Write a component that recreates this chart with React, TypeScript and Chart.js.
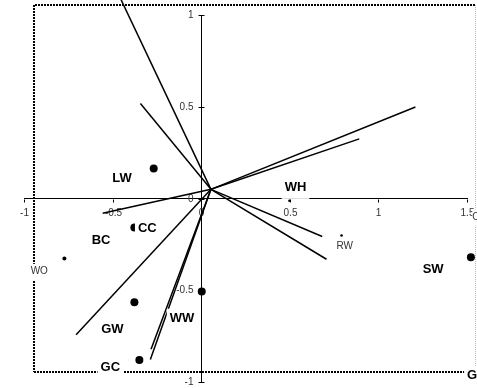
import React, { useEffect, useRef } from "react";
import { Chart, registerables } from "chart.js";

Chart.register(...registerables);

// ---- data ----
const originX = 0.055;
const originY = 0.05;
const vectorEndX = [-0.48, -0.343, 1.209, 0.892, -0.556, 0.683, 0.707, -0.706, -0.283, -0.287];
const vectorEndY = [1.14, 0.518, 0.499, 0.325, -0.08, -0.207, -0.331, -0.743, -0.821, -0.877];

const pointNames = ["LW", "CC", "WO", "GW", "GC", "WW", "RW", "SW", "WH"];
const pointX = [-0.268, -0.377, -0.772, -0.377, -0.349, 0.003, 0.792, 1.522, 0.498];
const pointY = [0.163, -0.158, -0.327, -0.565, -0.88, -0.507, -0.202, -0.32, -0.012];

const labelNames = ["LW", "CC", "BC", "WO", "GW", "GC", "WW", "WH", "RW", "SW", "C", "G"];
const labelX = [-0.447, -0.304, -0.565, -0.914, -0.501, -0.513, -0.108, 0.532, 0.81, 1.309, 1.55, 1.529];
const labelY = [0.118, -0.158, -0.222, -0.392, -0.707, -0.912, -0.648, 0.067, -0.256, -0.38, -0.096, -0.958];

const xTicks = [-1, -0.5, 0, 0.5, 1, 1.5];
const yTicks = [-1, -0.5, 0, 0.5, 1];

// ---- styles ----
const FONT = "'Liberation Sans', Arial, sans-serif";
const smallPoints = new Set(["WO"]);
const tinyPoints = new Set(["RW", "WH"]);
const plainLabels = new Set(["WO", "RW", "C"]);

const frameBox = { left: -0.942, top: 1.053, right: 1.545, bottom: -0.947 };

const framePlugin = {
  id: "frame",
  beforeDatasetsDraw(chart: any) {
    const { ctx } = chart;
    const xs = chart.scales.x;
    const ys = chart.scales.y;
    const l = Math.round(xs.getPixelForValue(frameBox.left));
    const r = Math.round(xs.getPixelForValue(frameBox.right));
    const t = Math.round(ys.getPixelForValue(frameBox.top));
    const b = Math.round(ys.getPixelForValue(frameBox.bottom));
    ctx.save();
    ctx.lineWidth = 2;
    ctx.strokeStyle = "#000";
    ctx.setLineDash([2, 1]);
    ctx.beginPath();
    ctx.moveTo(r, t);
    ctx.lineTo(l, t);
    ctx.stroke();
    ctx.beginPath();
    ctx.moveTo(l, t);
    ctx.lineTo(l, b);
    ctx.stroke();
    ctx.beginPath();
    ctx.moveTo(l, b);
    ctx.lineTo(r, b);
    ctx.stroke();
    ctx.lineWidth = 1;
    ctx.strokeStyle = "#bbb";
    ctx.setLineDash([1, 1]);
    ctx.beginPath();
    ctx.moveTo(r + 0.5, t);
    ctx.lineTo(r + 0.5, b);
    ctx.stroke();
    ctx.setLineDash([]);

    const ax = Math.round(xs.getPixelForValue(0)) + 0.5;
    const ay = Math.round(ys.getPixelForValue(0)) + 0.5;
    ctx.strokeStyle = "#000";
    ctx.lineWidth = 1;
    ctx.font = `10px ${FONT}`;
    ctx.fillStyle = "#333";

    // y-axis ticks (crossing) and labels
    ctx.textAlign = "right";
    ctx.textBaseline = "middle";
    yTicks.forEach((v) => {
      const py = Math.round(ys.getPixelForValue(v)) + 0.5;
      ctx.beginPath();
      ctx.moveTo(ax - 3, py);
      ctx.lineTo(ax + 3, py);
      ctx.stroke();
      ctx.fillText(String(v), ax - 8, py);
    });

    // x-axis ticks and labels
    ctx.textAlign = "center";
    xTicks.forEach((v) => {
      const px = Math.round(xs.getPixelForValue(v)) + 0.5;
      ctx.beginPath();
      ctx.moveTo(px, ay);
      ctx.lineTo(px, ay + 3);
      ctx.stroke();
      ctx.fillText(String(v), px, ay + 13.5);
    });
    ctx.restore();
  },
};

const labelPlugin = {
  id: "labels",
  afterDatasetsDraw(chart: any) {
    const { ctx } = chart;
    const xs = chart.scales.x;
    const ys = chart.scales.y;
    ctx.save();
    labelNames.forEach((name, i) => {
      const plain = plainLabels.has(name);
      const size = plain ? 10 : 13;
      ctx.font = `${plain ? "normal" : "bold"} ${size}px ${FONT}`;
      const w = ctx.measureText(name).width;
      const cx = xs.getPixelForValue(labelX[i]);
      const cy = ys.getPixelForValue(labelY[i]);
      const cap = size * 0.716;
      const base = cy + cap / 2;
      const padX = plain ? 0 : 3;
      const top = base - cap - (plain ? 3 : 4);
      const bottom = base + (plain ? 6 : 8);
      ctx.fillStyle = "#fff";
      ctx.fillRect(cx - w / 2 - padX, top, w + padX * 2, bottom - top);
      ctx.fillStyle = plain ? "#333" : "#000";
      ctx.textAlign = "center";
      ctx.textBaseline = "alphabetic";
      ctx.fillText(name, cx, base);
    });
    ctx.restore();
  },
};

export default function App() {
  const ref = useRef<HTMLCanvasElement | null>(null);

  useEffect(() => {
    if (!ref.current) return;
    const vectorSets = vectorEndX.map((ex, i) => ({
      label: `v${i}`,
      data: [
        { x: originX, y: originY },
        { x: ex, y: vectorEndY[i] },
      ],
      showLine: true,
      borderColor: "#000",
      borderWidth: 1.5,
      pointRadius: 0,
      clip: false as any,
    }));
    const pointSet = {
      label: "points",
      data: pointX.map((x, i) => ({ x, y: pointY[i] })),
      showLine: false,
      backgroundColor: "#000",
      borderWidth: 0,
      pointRadius: (c: any) => {
        const n = pointNames[c.dataIndex];
        if (tinyPoints.has(n)) return 1.3;
        if (smallPoints.has(n)) return 2;
        return 4;
      },
      clip: false as any,
    };

    const chart = new Chart(ref.current, {
      type: "scatter",
      data: { datasets: [pointSet as any, ...vectorSets] },
      options: {
        animation: false,
        responsive: true,
        maintainAspectRatio: false,
        layout: { padding: { left: 24, right: 10, top: 15, bottom: 6 } },
        plugins: { legend: { display: false }, tooltip: { enabled: false } },
        scales: {
          x: {
            type: "linear",
            min: -1,
            max: 1.5,
            position: { y: 0 } as any,
            afterBuildTicks: (s: any) => {
              s.ticks = xTicks.map((v) => ({ value: v }));
            },
            grid: { drawOnChartArea: false, drawTicks: false },
            border: { display: true, color: "#000", width: 1 },
            ticks: { display: false },
          },
          y: {
            type: "linear",
            min: -1,
            max: 1,
            position: { x: 0 } as any,
            afterBuildTicks: (s: any) => {
              s.ticks = yTicks.map((v) => ({ value: v }));
            },
            grid: { drawOnChartArea: false, drawTicks: false },
            border: { display: true, color: "#000", width: 1 },
            ticks: { display: false },
          },
        },
      },
      plugins: [framePlugin, labelPlugin],
    });
    return () => chart.destroy();
  }, []);

  return (
    <div style={{ position: "fixed", left: 0, top: 0, width: 477, height: 388, background: "#fff" }}>
      <canvas ref={ref} />
    </div>
  );
}
